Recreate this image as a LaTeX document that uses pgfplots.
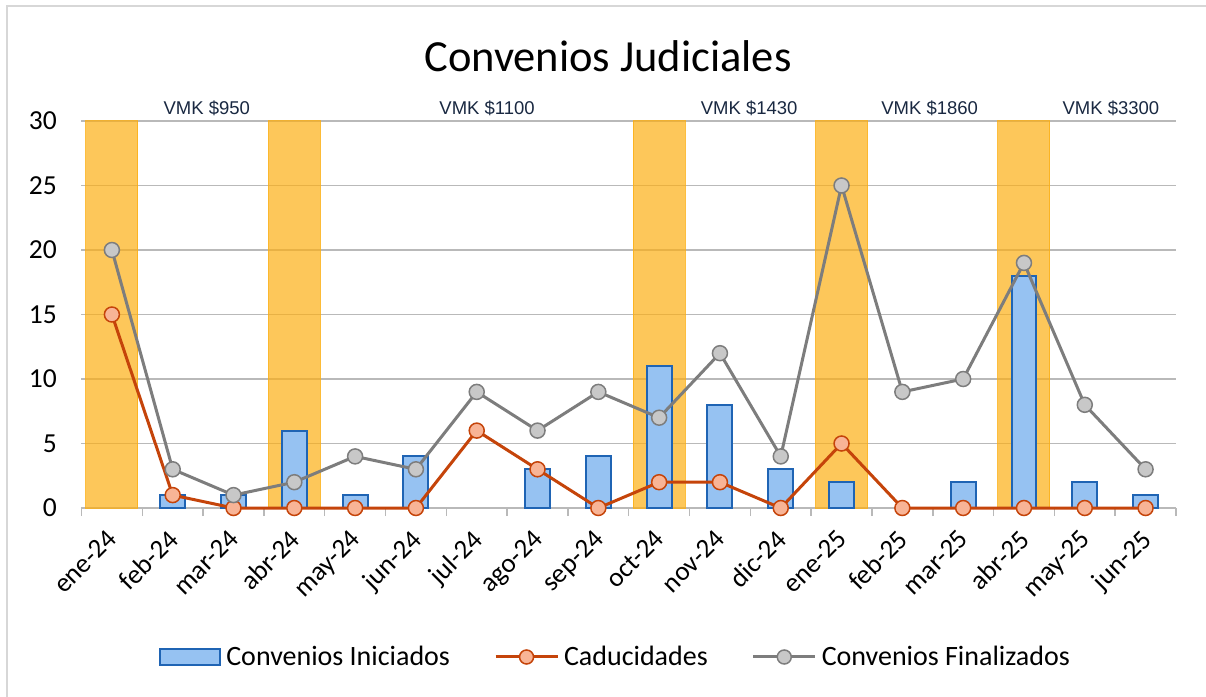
\documentclass[border=0pt]{standalone}
\usepackage{fontspec}
\setmainfont{Carlito}
\newfontfamily\arialf{Liberation Sans}
\usepackage{pgfplots}
\pgfplotsset{compat=1.18}
\definecolor{gridc}{RGB}{185,185,185}
\definecolor{orbar}{RGB}{252,175,20}
\definecolor{blfill}{RGB}{150,194,242}
\definecolor{bldraw}{RGB}{31,100,180}
\definecolor{cadline}{RGB}{197,68,10}
\definecolor{cadfill}{RGB}{248,180,150}
\definecolor{finline}{RGB}{125,125,125}
\definecolor{finfill}{RGB}{200,200,200}
\definecolor{vmkc}{RGB}{25,40,65}
\definecolor{framec}{RGB}{215,215,215}
\pgfplotsset{
  blueleg/.style={legend image code/.code={\draw[fill=blfill, draw=bldraw, line width=2bp] (0bp,-8bp) rectangle (60bp,8bp);}},
  cadleg/.style={legend image code/.code={\draw[cadline, line width=3bp] (0bp,0bp) -- (62bp,0bp); \draw[cadline, fill=cadfill, line width=1.5bp] (31bp,0bp) circle (7bp);}},
  finleg/.style={legend image code/.code={\draw[finline, line width=3bp] (0bp,0bp) -- (62bp,0bp); \draw[finline, fill=finfill, line width=1.5bp] (31bp,0bp) circle (7bp);}},
}
\begin{document}
\begin{tikzpicture}
\useasboundingbox (-81.5bp,-189bp) rectangle (1124.5bp,508bp);
\draw[framec, line width=2bp] (-74.5bp,-189bp) -- (-74.5bp,502bp) -- (1124.5bp,502bp);
\begin{axis}[
  scale only axis,
  width=1094.5bp, height=387bp,
  xmin=-0.5, xmax=17.5, ymin=0, ymax=30,
  clip=false,
  axis x line*=bottom,
  axis y line*=left,
  y axis line style={draw=none},
  x axis line style={gridc, line width=1.5bp, -},
  ytick={0,5,...,30},
  major y tick style={draw=none},
  ymajorgrids,
  grid style={gridc, line width=1.5bp},
  xtick={0,...,17},
  xticklabels={ene-24,feb-24,mar-24,abr-24,may-24,jun-24,jul-24,ago-24,sep-24,oct-24,nov-24,dic-24,ene-25,feb-25,mar-25,abr-25,may-25,jun-25},
  major x tick style={draw=none},
  minor xtick={-0.5,0.5,...,17.5},
  minor x tick style={gridc, line width=1.5bp},
  minor tick length=8bp,
  tick align=outside,
  xticklabel style={xshift=-6bp, yshift=-11bp, rotate=45, anchor=north east, font=\fontsize{27bp}{30bp}\selectfont},
  yticklabel style={font=\fontsize{27.5bp}{30bp}\selectfont, xshift=-17bp},
  /pgf/number format/assume math mode=true,
  legend columns=3,
  legend style={draw=none, fill=none, at={(0.488,-0.385)}, anchor=center,
    font=\fontsize{28bp}{30bp}\selectfont, /tikz/every even column/.append style={column sep=42bp},
    /tikz/every odd column/.append style={column sep=3bp}},
  legend cell align=left,
]
% orange highlight bars
\addplot[ybar, bar width=0.855, bar shift=0pt, fill=orbar, fill opacity=0.7, draw=orbar, draw opacity=0.8, line width=1bp, forget plot]
  coordinates {(0,30) (3,30) (9,30) (12,30) (15,30)};
% Convenios Iniciados
\addplot[ybar, bar width=0.41, bar shift=0pt, fill=blfill, draw=bldraw, line width=2bp, blueleg]
  coordinates {(1,1) (2,1) (3,6) (4,1) (5,4) (7,3) (8,4) (9,11) (10,8) (11,3) (12,2) (14,2) (15,18) (16,2) (17,1)};
\addlegendentry{Convenios Iniciados}
% Caducidades
\addplot[cadline, line width=3bp, mark=*, mark size=7.5bp, mark options={fill=cadfill, draw=cadline, line width=1.5bp}, cadleg]
  coordinates {(0,15) (1,1) (2,0) (3,0) (4,0) (5,0) (6,6) (7,3) (8,0) (9,2) (10,2) (11,0) (12,5) (13,0) (14,0) (15,0) (16,0) (17,0)};
\addlegendentry{Caducidades}
% Convenios Finalizados
\addplot[finline, line width=3bp, mark=*, mark size=7.5bp, mark options={fill=finfill, draw=finline, line width=1.5bp}, finleg]
  coordinates {(0,20) (1,3) (2,1) (3,2) (4,4) (5,3) (6,9) (7,6) (8,9) (9,7) (10,12) (11,4) (12,25) (13,9) (14,10) (15,19) (16,8) (17,3)};
\addlegendentry{Convenios Finalizados}
% VMK labels
\node[anchor=base, text=vmkc, font=\arialf\fontsize{18.5bp}{20bp}\selectfont, yshift=6bp] at (axis cs:1.56,30) {VMK \$950};
\node[anchor=base, text=vmkc, font=\arialf\fontsize{18.5bp}{20bp}\selectfont, yshift=6bp] at (axis cs:6.17,30) {VMK \$1100};
\node[anchor=base, text=vmkc, font=\arialf\fontsize{18.5bp}{20bp}\selectfont, yshift=6bp] at (axis cs:10.48,30) {VMK \$1430};
\node[anchor=base, text=vmkc, font=\arialf\fontsize{18.5bp}{20bp}\selectfont, yshift=6bp] at (axis cs:13.45,30) {VMK \$1860};
\node[anchor=base, text=vmkc, font=\arialf\fontsize{18.5bp}{20bp}\selectfont, yshift=6bp] at (axis cs:16.43,30) {VMK \$3300};
\end{axis}
\node[anchor=base, font=\fontsize{44.5bp}{48bp}\selectfont] at (526.5bp,436bp) {Convenios Judiciales};
\end{tikzpicture}
\end{document}
